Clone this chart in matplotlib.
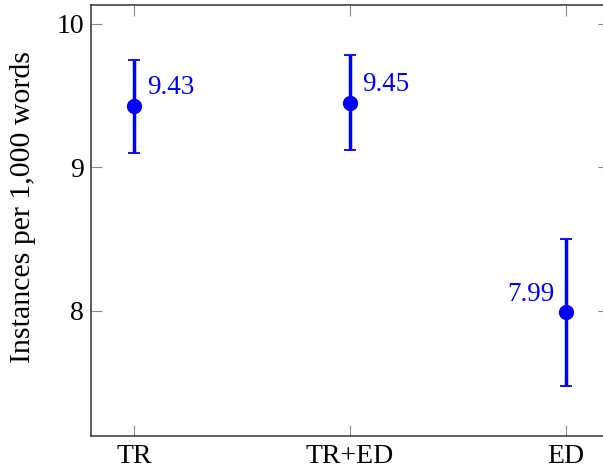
import numpy as np
import matplotlib
matplotlib.use("Agg")
import matplotlib.pyplot as plt

# data
groups = ["TR", "TR+ED", "ED"]
means = [9.43, 9.45, 7.99]
err_up = [0.32, 0.33, 0.51]
err_low = [0.33, 0.33, 0.51]

plt.rcParams['font.family'] = ['Liberation Serif', 'DejaVu Serif']

fig = plt.figure(figsize=(6.03, 4.69), dpi=100)
ax = fig.add_axes([91/603, 1 - 435.7/469, 518/603, 430.7/469])

x = np.arange(len(groups))
ax.errorbar(x, means, yerr=[err_low, err_up], fmt='o', color='blue',
            markersize=10, elinewidth=2.5, capsize=4, capthick=1.3)

# value labels: first two above right, last above left
for i, m in enumerate(means):
    if i < 2:
        ax.annotate("%.2f" % m, (x[i], m), xytext=(9, 8.5), textcoords='offset points',
                    ha='left', va='baseline', color='blue', fontsize=19.5)
    else:
        ax.annotate("%.2f" % m, (x[i], m), xytext=(-8.5, 8.5), textcoords='offset points',
                    ha='right', va='baseline', color='blue', fontsize=19.5)

ax.set_xlim(-0.2, 2.2)
ax.set_ylim(7.131, 10.13)
ax.set_xticks(x)
ax.set_xticklabels(groups)
ax.set_yticks([8, 9, 10])
ax.tick_params(direction='in', length=8, width=0.8, color='#888888',
               labelsize=20, top=True, right=True, pad=5)
ax.tick_params(axis='x', pad=6)
for s in ax.spines.values():
    s.set_linewidth(1.1)
    s.set_color('#333333')
ax.set_ylabel("Instances per 1,000 words", fontsize=21.5)
ax.yaxis.set_label_coords(-0.106, 0.53)

fig.savefig("out.png", dpi=100)
